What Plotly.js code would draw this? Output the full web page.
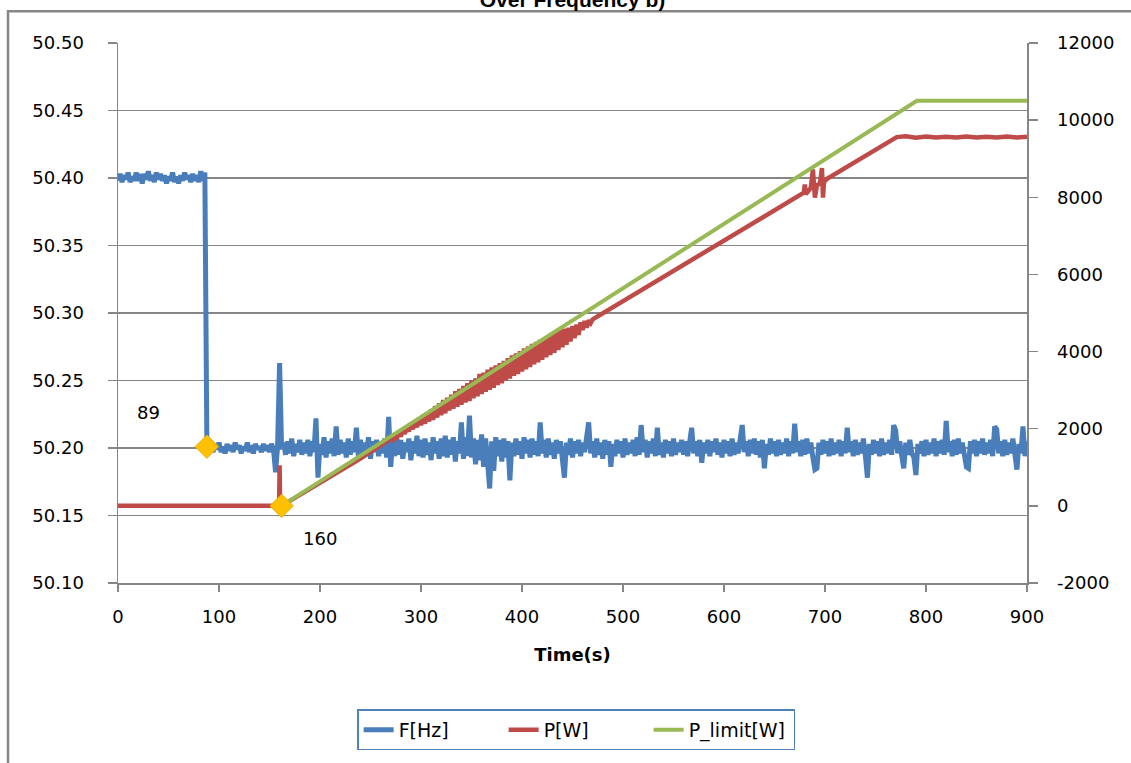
<!DOCTYPE html>
<html><head><meta charset="utf-8">
<script src="https://cdn.plot.ly/plotly-3.0.1.min.js"></script>
<style>html,body{margin:0;padding:0;background:#fff}</style>
</head><body><div id="chart" style="width:1131px;height:763px"></div>
<script>
const fStartTime = 0, fSampleStep = 2;
const fValues = [
 50.398,50.403,50.397,50.402,50.399,50.404,50.397,50.401,50.398,50.404, // 0-18
 50.398,50.403,50.396,50.403,50.399,50.405,50.398,50.402,50.397,50.404, // 20-38
 50.399,50.403,50.398,50.402,50.396,50.401,50.398,50.404,50.397,50.401, // 40-58
 50.396,50.402,50.398,50.404,50.399,50.402,50.397,50.403,50.398,50.402, // 60-78
 50.397,50.405,50.398,50.404,50.201,50.198,50.203,50.197,50.202,50.199, // 80-98
 50.204,50.197,50.201,50.196,50.203,50.198,50.202,50.197,50.204,50.199, // 100-118
 50.202,50.196,50.201,50.198,50.204,50.197,50.202,50.196,50.203,50.199, // 120-138
 50.201,50.197,50.203,50.198,50.202,50.197,50.203,50.199,50.182,50.201, // 140-158
 50.263,50.199,50.204,50.195,50.205,50.196,50.207,50.194,50.203,50.197, // 160-178
 50.206,50.195,50.204,50.196,50.206,50.194,50.205,50.197,50.222,50.178, // 180-198
 50.203,50.195,50.208,50.193,50.205,50.196,50.207,50.194,50.216,50.195, // 200-218
 50.206,50.196,50.204,50.193,50.207,50.195,50.205,50.197,50.215,50.194, // 220-238
 50.206,50.195,50.204,50.196,50.208,50.192,50.205,50.197,50.206,50.194, // 240-258
 50.204,50.196,50.207,50.193,50.223,50.186,50.205,50.194,50.208,50.195, // 260-278
 50.206,50.192,50.204,50.197,50.207,50.191,50.205,50.196,50.209,50.194, // 280-298
 50.206,50.193,50.207,50.195,50.204,50.191,50.208,50.196,50.205,50.192, // 300-318
 50.207,50.194,50.209,50.193,50.206,50.195,50.208,50.190,50.205,50.196, // 320-338
 50.219,50.192,50.208,50.194,50.224,50.193,50.207,50.188,50.206,50.191, // 340-358
 50.210,50.186,50.207,50.184,50.170,50.205,50.183,50.208,50.194,50.206, // 360-378
 50.190,50.207,50.193,50.205,50.176,50.204,50.194,50.207,50.195,50.205, // 380-398
 50.192,50.208,50.196,50.206,50.193,50.207,50.195,50.205,50.194,50.219, // 400-418
 50.196,50.206,50.193,50.207,50.195,50.204,50.192,50.206,50.196,50.205, // 420-438
 50.186,50.178,50.204,50.195,50.207,50.193,50.205,50.196,50.206,50.194, // 440-458
 50.204,50.197,50.208,50.219,50.196,50.205,50.193,50.207,50.195,50.204, // 460-478
 50.192,50.206,50.195,50.205,50.186,50.203,50.194,50.206,50.196,50.205, // 480-498
 50.193,50.207,50.195,50.204,50.196,50.206,50.194,50.208,50.195,50.217, // 500-518
 50.197,50.206,50.193,50.205,50.196,50.207,50.194,50.215,50.195,50.204, // 520-538
 50.193,50.206,50.196,50.205,50.194,50.207,50.195,50.204,50.197,50.206, // 540-558
 50.195,50.205,50.194,50.207,50.215,50.196,50.205,50.194,50.206,50.189, // 560-578
 50.204,50.196,50.206,50.194,50.205,50.197,50.207,50.195,50.204,50.193, // 580-598
 50.206,50.196,50.205,50.194,50.207,50.195,50.204,50.196,50.206,50.217, // 600-618
 50.197,50.205,50.194,50.206,50.196,50.207,50.195,50.205,50.193,50.206, // 620-638
 50.185,50.203,50.195,50.207,50.196,50.205,50.194,50.206,50.195,50.204, // 640-658
 50.196,50.207,50.194,50.205,50.196,50.218,50.197,50.205,50.194,50.206, // 660-678
 50.195,50.207,50.196,50.204,50.193,50.184,50.185,50.204,50.195,50.206, // 680-698
 50.196,50.205,50.194,50.207,50.195,50.204,50.196,50.206,50.194,50.205, // 700-718
 50.196,50.215,50.197,50.205,50.194,50.206,50.195,50.204,50.196,50.207, // 720-738
 50.194,50.178,50.203,50.195,50.206,50.196,50.205,50.194,50.207,50.195, // 740-758
 50.204,50.196,50.206,50.195,50.217,50.213,50.196,50.205,50.194,50.185, // 760-778
 50.204,50.195,50.206,50.196,50.193,50.180,50.203,50.196,50.205,50.194, // 780-798
 50.206,50.195,50.204,50.196,50.207,50.194,50.205,50.196,50.206,50.195, // 800-818
 50.220,50.197,50.205,50.194,50.206,50.195,50.207,50.196,50.204,50.194, // 820-838
 50.186,50.185,50.205,50.196,50.206,50.194,50.205,50.196,50.207,50.195, // 840-858
 50.204,50.196,50.206,50.194,50.216,50.214,50.196,50.205,50.194,50.206, // 860-878
 50.195,50.204,50.196,50.207,50.195,50.184,50.203,50.196,50.216,50.194, // 880-898
 50.205                                                                 // 900
];

// P[W]
const pTime = [
 0,159.5,160,160.5,162,200,240,
 270,272,274,276,278,280,282,284,286,288,
 290,292,294,296,298,300,302,304,306,308,
 310,312,314,316,318,320,322,324,326,328,
 330,332,334,336,338,340,342,344,346,348,
 350,352,354,356,358,360,362,364,366,368,
 370,372,374,376,378,380,382,384,386,388,
 390,392,394,396,398,400,402,404,406,408,
 410,412,414,416,418,420,422,424,426,428,
 430,432,434,436,438,440,442,444,446,448,
 450,452,454,456,458,460,462,464,466,468,470,
 500,550,600,650,676,679,680,681,684,686,688,689,690,692,695,697,698,699,702,
 740,771,780,790,800,810,820,830,840,850,860,870,880,890,900
];
const pPower = [
 0,0,1050,0,0,597,1225,
 1740,1700,1820,1770,1890,1800,1960,1870,2040,1930,
 2120,1990,2180,2040,2270,2090,2350,2130,2420,2190,
 2500,2230,2590,2290,2660,2350,2740,2400,2800,2470,
 2880,2520,2970,2570,3030,2620,3110,2680,3180,2720,
 3250,2790,3300,2840,3420,2900,3450,2960,3530,3010,
 3590,3060,3640,3130,3700,3180,3760,3250,3830,3300,
 3900,3370,3950,3420,4010,3480,4080,3540,4130,3600,
 4200,3670,4250,3720,4310,3790,4360,3850,4420,3910,
 4470,3970,4520,4040,4560,4110,4590,4180,4620,4260,
 4660,4350,4700,4430,4760,4560,4790,4620,4810,4740,4836,
 5307,6092,6877,7662,8070,8118,8330,8080,8180,8250,8720,8110,7990,8310,8360,8760,7990,8400,8478,
 9075,9560,9580,9545,9575,9550,9570,9548,9578,9552,9572,9549,9576,9553,9568
];

// P_limit[W]
const pLimitTime = [162, 791, 900];
const pLimitPower = [0, 10500, 10500];

// marked points
const markFTime = [88], markFValue = [50.201];
const markPTime = [162], markPValue = [0];
const markLabels = ['89', '160'];

// right-axis tick labels
const powerTicks = [-2000, 0, 2000, 4000, 6000, 8000, 10000, 12000];
const powerTickText = ['-2000', '0', '2000', '4000', '6000', '8000', '10000', '12000'];

const fTime = fValues.map((v, i) => fStartTime + i * fSampleStep);

const tickFont = {family: 'DejaVu Sans', size: 18, color: '#000'};
const axisGrey = '#868686';

const traces = [
  {x: fTime, y: fValues, type: 'scatter', mode: 'lines', name: 'F[Hz]',
   line: {color: '#4A7EBB', width: 5}, yaxis: 'y'},
  {x: pTime, y: pPower, type: 'scatter', mode: 'lines', name: 'P[W]',
   line: {color: '#BE4B48', width: 4.5}, yaxis: 'y2'},
  {x: pLimitTime, y: pLimitPower, type: 'scatter', mode: 'lines', name: 'P_limit[W]',
   line: {color: '#98B954', width: 4}, yaxis: 'y2'},
  {x: markFTime, y: markFValue, type: 'scatter', mode: 'markers', showlegend: false,
   marker: {symbol: 'diamond', size: 18, color: '#FFC000', line: {color: '#E6AC00', width: 1}}, yaxis: 'y'},
  {x: markPTime, y: markPValue, type: 'scatter', mode: 'markers', showlegend: false,
   marker: {symbol: 'diamond', size: 18, color: '#FFC000', line: {color: '#E6AC00', width: 1}}, yaxis: 'y2'}
];

const layout = {
  width: 1131, height: 763,
  margin: {l: 118, r: 104, t: 43, b: 180},
  paper_bgcolor: '#fff', plot_bgcolor: '#fff',
  showlegend: true,
  title: {text: '<b>Over Frequency b)</b>', font: {family: 'Liberation Sans', size: 21, color: '#000'},
          x: 0.5, xref: 'paper', y: 1.0, yref: 'container', yanchor: 'middle'},
  xaxis: {range: [0, 900], dtick: 100, tick0: 0, showgrid: false, zeroline: false,
          showline: true, linecolor: axisGrey, linewidth: 1.5,
          ticks: 'outside', ticklen: 7, tickcolor: axisGrey, tickwidth: 1.5,
          tickfont: tickFont, ticklabelstandoff: 10,
          title: {text: '<b>Time(s)</b>', font: {family: 'DejaVu Sans', size: 18, color: '#000'}, standoff: 22}},
  yaxis: {range: [50.10, 50.50], dtick: 0.05, tick0: 50.10, tickformat: '.2f',
          showgrid: true, gridcolor: axisGrey, gridwidth: 1.5, zeroline: false,
          showline: true, linecolor: axisGrey, linewidth: 1.5,
          ticks: 'outside', ticklen: 9, tickcolor: axisGrey, tickwidth: 1.5,
          tickfont: tickFont, ticklabelstandoff: 20},
  yaxis2: {range: [-2000, 12000], tickmode: 'array', tickvals: powerTicks, ticktext: powerTickText,
           overlaying: 'y', side: 'right',
           showgrid: false, zeroline: false,
           showline: true, linecolor: axisGrey, linewidth: 1.5,
           ticks: 'outside', ticklen: 9, tickcolor: axisGrey, tickwidth: 1.5,
           tickfont: tickFont, ticklabelstandoff: 16},
  legend: {orientation: 'h', x: 0.504, xanchor: 'center', y: -0.272, yanchor: 'middle',
           bordercolor: '#4F81BD', borderwidth: 1.5, bgcolor: '#fff',
           font: {family: 'DejaVu Sans', size: 19, color: '#000'},
           entrywidth: 100, entrywidthmode: 'pixels'},
  annotations: [
    {x: 29.7, y: 50.226, xref: 'x', yref: 'y', text: markLabels[0], showarrow: false,
     font: {family: 'DejaVu Sans', size: 18, color: '#000'}},
    {x: 200, y: 50.133, xref: 'x', yref: 'y', text: markLabels[1], showarrow: false,
     font: {family: 'DejaVu Sans', size: 18, color: '#000'}}
  ],
  shapes: [
    {type: 'rect', xref: 'paper', yref: 'paper', x0: -0.121, x1: 1.3, y0: -0.5, y1: 1.059,
     line: {color: axisGrey, width: 2.5}, fillcolor: 'rgba(0,0,0,0)', layer: 'below'}
  ]
};

Plotly.newPlot('chart', traces, layout, {displayModeBar: false, staticPlot: true});
</script>
</body></html>
